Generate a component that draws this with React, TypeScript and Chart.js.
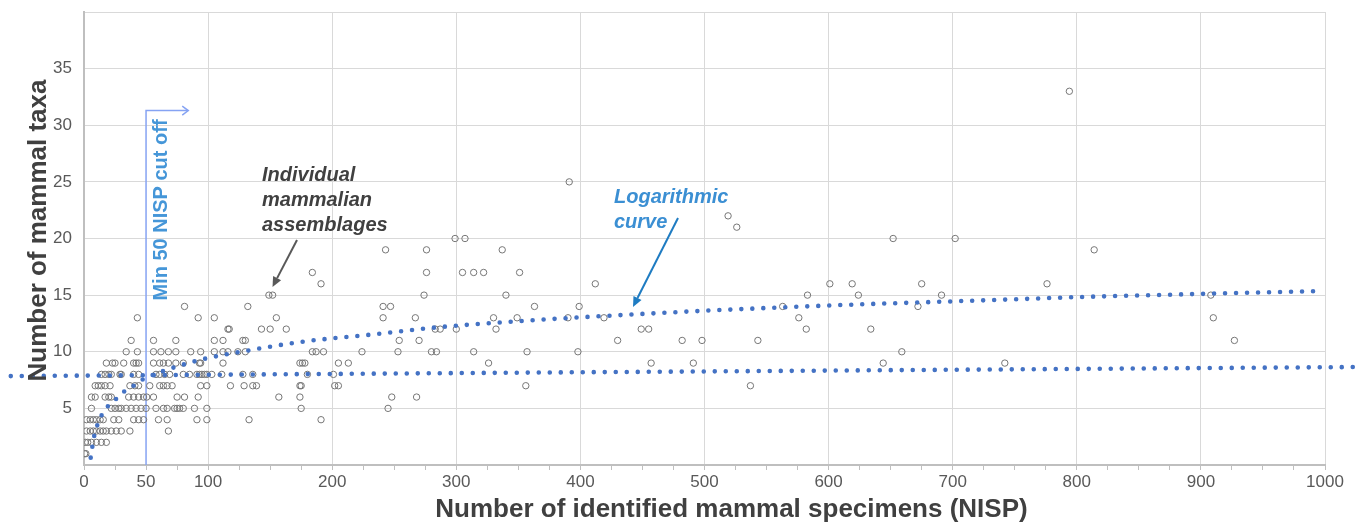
import React, { useEffect, useRef } from "react";
import { Chart, registerables } from "chart.js";

Chart.register(...registerables);

// ---- Data ----
// Number of mammal taxa (y) for each row of assemblages
const taxaLevels = [1, 2, 3, 4, 5, 6, 7, 8, 9, 10, 11, 12, 13, 14, 15, 16, 17, 19, 20, 21, 22, 25, 33];
// NISP values (x) of the assemblages at each taxa level above
const nispTaxa1 = [0.5, 1.5];
const nispTaxa2 = [1, 3, 6, 10, 14, 18];
const nispTaxa3 = [2, 5, 7.5, 10, 13, 15.5, 18, 22, 26, 30, 37, 68];
const nispTaxa4 = [2, 5, 7.5, 10, 13, 15.5, 24, 28, 40, 44, 48, 60, 67, 91, 99, 133, 191];
const nispTaxa5 = [6, 22, 25, 28, 30, 34, 38, 42, 46, 50, 58, 64, 67, 73, 75, 77, 80, 89, 99, 175, 245];
const nispTaxa6 = [6, 9, 17, 20, 22, 36, 40, 44, 48, 50.5, 56, 75, 81, 92, 157, 174, 248, 268];
const nispTaxa7 = [9, 11.5, 14, 17, 21, 37, 41, 44, 53, 61, 64, 67, 71, 94, 99, 118, 129, 136, 139, 174, 175, 202, 205, 356, 537];
const nispTaxa8 = [14, 17, 20, 22, 29, 30, 40, 44, 58, 61, 65, 69, 80, 85, 91, 93, 95, 97, 99, 103, 111, 128, 136, 180, 201];
const nispTaxa9 = [18, 23, 25, 32, 40, 42, 44, 56, 61, 64, 68, 74, 80, 93, 94, 112, 174, 176, 178, 205, 213, 326, 457, 491, 644, 742];
const nispTaxa10 = [34, 43, 56, 62, 68, 74, 86, 94, 105, 112, 116, 124, 130, 184, 187, 193, 224, 253, 280, 284, 314, 357, 398, 659];
const nispTaxa11 = [38, 56, 74, 105, 112, 128, 130, 254, 270, 430, 482, 498, 543, 927];
const nispTaxa12 = [116, 117, 143, 150, 163, 283, 287, 300, 332, 449, 455, 582, 634];
const nispTaxa13 = [43, 92, 105, 155, 241, 267, 330, 349, 390, 419, 576, 910];
const nispTaxa14 = [81, 132, 241, 247, 363, 399, 563, 672];
const nispTaxa15 = [149, 152, 274, 340, 583, 624, 691, 908];
const nispTaxa16 = [191, 412, 601, 619, 675, 776];
const nispTaxa17 = [184, 276, 305, 314, 322, 351];
const nispTaxa19 = [243, 276, 337, 814];
const nispTaxa20 = [299, 307, 652, 702];
const nispTaxa21 = [526];
const nispTaxa22 = [519];
const nispTaxa25 = [391];
const nispTaxa33 = [794];
const nispRows = [
  nispTaxa1, nispTaxa2, nispTaxa3, nispTaxa4, nispTaxa5, nispTaxa6, nispTaxa7, nispTaxa8,
  nispTaxa9, nispTaxa10, nispTaxa11, nispTaxa12, nispTaxa13, nispTaxa14, nispTaxa15, nispTaxa16,
  nispTaxa17, nispTaxa19, nispTaxa20, nispTaxa21, nispTaxa22, nispTaxa25, nispTaxa33,
];

// Logarithmic trend curve
const logCurveNISP = [5.4, 6.7, 8.3, 10.7, 14.2, 19.3, 26, 32.5, 40, 47.5, 64, 81, 98, 125, 177, 230, 284, 337, 389, 443, 496, 550, 604, 657, 700, 754, 808, 862, 915, 996];
const logCurveTaxa = [0.65, 1.6, 2.6, 3.5, 4.4, 5.2, 5.85, 6.5, 7.0, 7.56, 8.3, 8.9, 9.4, 9.97, 10.9, 11.5, 12.15, 12.6, 12.97, 13.3, 13.6, 13.86, 14.1, 14.3, 14.45, 14.65, 14.85, 15.0, 15.15, 15.35];

// Linear trend line (extends beyond the plot on both sides)
const linearTrendNISP = [-59, 1025];
const linearTrendTaxa = [7.85, 8.65];

// Axis ticks
const xTickLabels = [0, 50, 100, 200, 300, 400, 500, 600, 700, 800, 900, 1000];
const yTickLabels = [5, 10, 15, 20, 25, 30, 35];

// Cut-off annotation values
const cutoffNISP = 50;
const cutoffTopTaxa = 31.3;
const cutoffArrowEndNISP = 84;

const FONT = "'Liberation Sans', Arial, Helvetica, sans-serif";

function drawArrow(ctx: CanvasRenderingContext2D, x1: number, y1: number, x2: number, y2: number, color: string) {
  const ang = Math.atan2(y2 - y1, x2 - x1);
  const head = 10;
  const half = 4.5;
  const bx = x2 - head * Math.cos(ang);
  const by = y2 - head * Math.sin(ang);
  ctx.strokeStyle = color;
  ctx.fillStyle = color;
  ctx.lineWidth = 2;
  ctx.beginPath();
  ctx.moveTo(x1, y1);
  ctx.lineTo(bx, by);
  ctx.stroke();
  ctx.beginPath();
  ctx.moveTo(x2, y2);
  ctx.lineTo(bx + half * Math.sin(ang), by - half * Math.cos(ang));
  ctx.lineTo(bx - half * Math.sin(ang), by + half * Math.cos(ang));
  ctx.closePath();
  ctx.fill();
}

const annotationPlugin = {
  id: "nispAnnotations",
  beforeDatasetsDraw(chart: any) {
    const { ctx, scales } = chart;
    const x = scales.x;
    const y = scales.y;
    const cx = x.getPixelForValue(cutoffNISP);
    const cyTop = y.getPixelForValue(cutoffTopTaxa);
    const cyBottom = y.getPixelForValue(0);
    const ax = x.getPixelForValue(cutoffArrowEndNISP);
    ctx.save();
    ctx.strokeStyle = "#86a3f3";
    ctx.lineWidth = 1.5;
    ctx.beginPath();
    ctx.moveTo(cx, cyBottom);
    ctx.lineTo(cx, cyTop);
    ctx.lineTo(ax, cyTop);
    ctx.stroke();
    ctx.beginPath();
    ctx.moveTo(ax - 6, cyTop - 4.5);
    ctx.lineTo(ax, cyTop);
    ctx.lineTo(ax - 6, cyTop + 4.5);
    ctx.stroke();
    ctx.restore();
  },
  afterDraw(chart: any) {
    const { ctx } = chart;
    ctx.save();
    // Rotated cut-off label
    ctx.save();
    ctx.translate(166.5, 210);
    ctx.rotate(-Math.PI / 2);
    ctx.font = `bold 20px ${FONT}`;
    ctx.fillStyle = "#4596d8";
    ctx.textAlign = "center";
    ctx.textBaseline = "alphabetic";
    ctx.fillText("Min 50 NISP cut off", 0, 0);
    ctx.restore();

    // Individual mammalian assemblages
    ctx.font = `italic bold 20px ${FONT}`;
    ctx.fillStyle = "#404040";
    ctx.textAlign = "left";
    ctx.textBaseline = "alphabetic";
    ctx.fillText("Individual", 262, 181);
    ctx.fillText("mammalian", 262, 206);
    ctx.fillText("assemblages", 262, 231);
    drawArrow(ctx, 297, 240, 272.5, 287, "#595959");

    // Logarithmic curve label
    ctx.fillStyle = "#3b8fd3";
    ctx.fillText("Logarithmic", 614, 203);
    ctx.fillText("curve", 614, 228);
    drawArrow(ctx, 678, 218, 633, 307, "#1f7cc2");

    // Axis titles
    ctx.font = `bold 26px ${FONT}`;
    ctx.fillStyle = "#404040";
    ctx.textAlign = "center";
    ctx.fillText("Number of identified mammal specimens (NISP)", 731.5, 517);
    ctx.save();
    ctx.translate(46, 230.5);
    ctx.rotate(-Math.PI / 2);
    ctx.fillText("Number of mammal taxa", 0, 0);
    ctx.restore();
    ctx.restore();
  },
};

export default function App() {
  const canvasRef = useRef<HTMLCanvasElement | null>(null);

  useEffect(() => {
    if (!canvasRef.current) return;
    const points: { x: number; y: number }[] = [];
    taxaLevels.forEach((t, i) => {
      nispRows[i].forEach((n) => points.push({ x: n, y: t }));
    });
    const logPts = logCurveNISP.map((n, i) => ({ x: n, y: logCurveTaxa[i] }));
    const linPts = linearTrendNISP.map((n, i) => ({ x: n, y: linearTrendTaxa[i] }));

    const tickFont = { family: FONT, size: 17 };

    const chart = new Chart(canvasRef.current, {
      type: "scatter",
      data: {
        datasets: [
          {
            label: "Individual mammalian assemblages",
            data: points,
            pointRadius: 3.2,
            pointBorderWidth: 1,
            pointBorderColor: "#767676",
            pointBackgroundColor: "rgba(0,0,0,0)",
            showLine: false,
            order: 2,
          } as any,
          {
            label: "Logarithmic curve",
            data: logPts,
            showLine: true,
            pointRadius: 0,
            borderColor: "#4472c4",
            borderWidth: 4.6,
            borderDash: [0, 11],
            borderCapStyle: "round",
            cubicInterpolationMode: "monotone",
            order: 1,
          } as any,
          {
            label: "Linear trend",
            data: linPts,
            showLine: true,
            pointRadius: 0,
            borderColor: "#4472c4",
            borderWidth: 4.6,
            borderDash: [0, 11],
            borderCapStyle: "round",
            clip: false,
            order: 1,
          } as any,
        ],
      },
      options: {
        animation: false,
        responsive: false,
        layout: { padding: { top: 12, right: 38, left: 0, bottom: 0 } },
        plugins: {
          legend: { display: false },
          tooltip: { enabled: false },
        },
        scales: {
          x: {
            type: "linear",
            min: 0,
            max: 1000,
            ticks: {
              stepSize: 25,
              autoSkip: false,
              maxRotation: 0,
              padding: 2,
              color: "#595959",
              font: tickFont,
              callback: (v: any) => (xTickLabels.includes(Number(v)) ? String(v) : ""),
            },
            grid: {
              color: (c: any) => (c.tick && c.tick.value % 100 === 0 ? "#d9d9d9" : "rgba(0,0,0,0)"),
              tickColor: "#bfbfbf",
              tickLength: 5,
              lineWidth: 1,
              drawTicks: true,
            },
            border: { color: "#bfbfbf", width: 2 },
            afterFit: (s: any) => {
              s.height = 61;
              s.paddingLeft = 0;
              s.paddingRight = 0;
            },
          },
          y: {
            type: "linear",
            min: 0,
            max: 40,
            ticks: {
              stepSize: 5,
              padding: 12,
              color: "#595959",
              font: tickFont,
              callback: (v: any) => (yTickLabels.includes(Number(v)) ? String(v) : ""),
            },
            grid: { color: "#d9d9d9", drawTicks: false, lineWidth: 1 },
            border: { color: "#bfbfbf", width: 2 },
            afterFit: (s: any) => {
              s.width = 84;
              s.paddingTop = 0;
              s.paddingBottom = 0;
            },
          },
        },
      } as any,
      plugins: [annotationPlugin],
    });
    return () => chart.destroy();
  }, []);

  return (
    <div style={{ position: "absolute", left: 0, top: 0, width: 1363, height: 526, background: "#ffffff" }}>
      <canvas ref={canvasRef} width={1363} height={526} style={{ display: "block" }} />
    </div>
  );
}
